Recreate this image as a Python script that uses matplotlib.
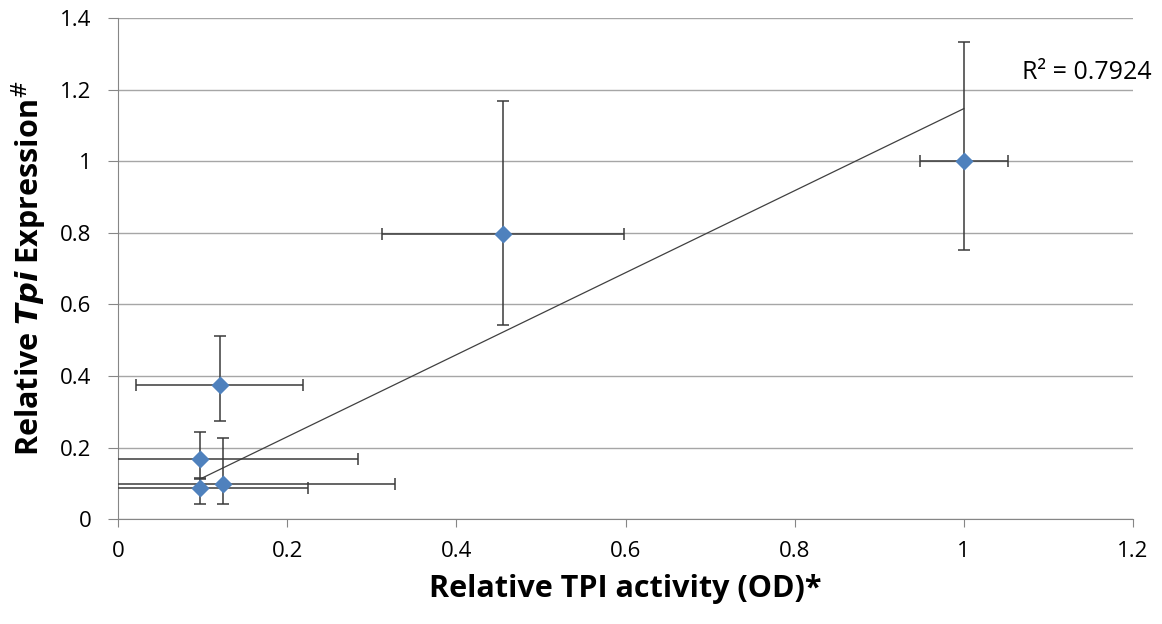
import matplotlib.pyplot as plt
import numpy as np

# data
tpi_activity = [1.0, 0.455, 0.120, 0.097, 0.097, 0.1245]
tpi_expr     = [1.0, 0.797, 0.374, 0.167, 0.0875, 0.0995]
x_err        = [0.052, 0.143, 0.099, 0.187, 0.128, 0.203]
y_err_low    = [0.248, 0.255, 0.100, 0.055, 0.045, 0.057]
y_err_high   = [0.334, 0.371, 0.137, 0.077, 0.027, 0.128]
# linear trendline as drawn in the chart
trend_slope = 1.146
trend_intercept = 0.001
r2_label = 'R² = 0.7924'

plt.rcParams['font.family'] = ['Open Sans', 'DejaVu Sans']

fig = plt.figure(figsize=(11.62, 6.24), dpi=100)
ax = fig.add_axes([0.1016, 0.168, 0.8734, 0.803])

# gridlines
ax.set_yticks(np.arange(0, 1.41, 0.2))
ax.set_xticks(np.arange(0, 1.21, 0.2))
ax.grid(axis='y', color='#a6a6a6', linewidth=1)
ax.set_axisbelow(True)

x = np.array(tpi_activity)
y = np.array(tpi_expr)
xs = np.array([x.min(), x.max()])
ax.plot(xs, trend_slope * xs + trend_intercept, color='#404040', linewidth=0.9, zorder=2)

ax.errorbar(x, y, xerr=x_err, yerr=[y_err_low, y_err_high], fmt='none',
            ecolor='#3a3a3a', elinewidth=1.1, capsize=4, capthick=1.1, zorder=3)
ax.scatter(x, y, marker='D', s=85, color='#4f81bd', zorder=4, linewidths=0)

ax.text(1.069, 1.249, r2_label, fontsize=18, va='center', ha='left', clip_on=False)

ax.set_xlim(0, 1.2)
ax.set_ylim(0, 1.4)
ax.set_xticklabels(['0', '0.2', '0.4', '0.6', '0.8', '1', '1.2'])
ax.set_yticklabels(['0', '0.2', '0.4', '0.6', '0.8', '1', '1.2', '1.4'])
ax.tick_params(labelsize=16, color='#868686', direction='out')
ax.tick_params(axis='y', length=7, pad=12)
ax.tick_params(axis='x', length=6, pad=10)

for s in ['top', 'right']:
    ax.spines[s].set_visible(False)
for s in ['left', 'bottom']:
    ax.spines[s].set_color('#868686')

ax.set_xlabel('Relative TPI activity (OD)*', fontsize=22, fontweight='bold', labelpad=8)
ax.set_ylabel(r'Relative $\mathbfit{Tpi}$ Expression$^{\#}$', fontsize=22, fontweight='bold', labelpad=8)

fig.savefig('out.png', dpi=100)
